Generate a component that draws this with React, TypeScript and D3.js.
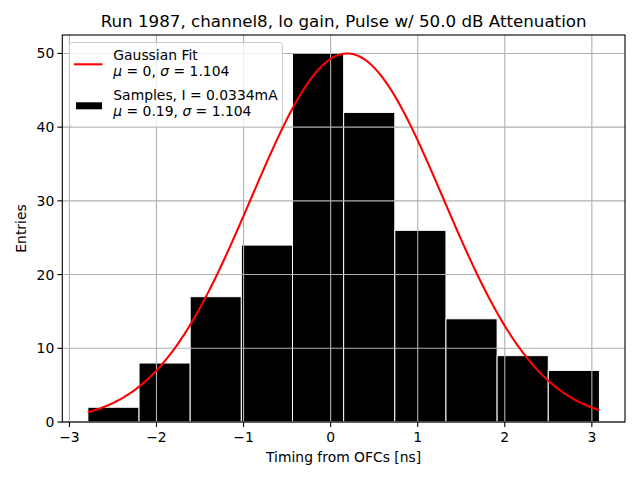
import React from "react";
import * as d3 from "d3";

const binEdges = [-2.788, -2.2005, -1.613, -1.0255, -0.438, 0.1495, 0.737, 1.3245, 1.912, 2.4995, 3.087];
const counts = [2, 8, 17, 24, 50, 42, 26, 14, 9, 7];
const fitMu = 0.19;
const fitSigma = 1.104;
const fitAmp = 50;
const xTicks = [-3, -2, -1, 0, 1, 2, 3];
const yTicks = [0, 10, 20, 30, 40, 50];

const W = 640, H = 480;
const L = 62.3, R = 625, T = 35, B = 422;
const FONT = "DejaVu Sans, sans-serif";

export default function App() {
  const lo = binEdges[0], hi = binEdges[binEdges.length - 1];
  const pad = (hi - lo) * 0.05;
  const x = d3.scaleLinear().domain([lo - pad, hi + pad]).range([L, R]);
  const ymax = d3.max(counts)! * 1.05;
  const y = d3.scaleLinear().domain([0, ymax]).range([B, T]);

  const n = 200;
  const pts: [number, number][] = d3.range(n + 1).map((i) => {
    const xv = lo + ((hi - lo) * i) / n;
    return [xv, fitAmp * Math.exp(-((xv - fitMu) ** 2) / (2 * fitSigma * fitSigma))];
  });
  const line = d3.line<[number, number]>().x((d) => x(d[0])).y((d) => y(d[1]));
  const fmt = (v: number) => (v < 0 ? "\u2212" + Math.abs(v) : String(v));

  return (
    <svg width={W} height={H} style={{ position: "absolute", left: 0, top: 0, background: "white" }} fontFamily={FONT}>
      <rect x={0} y={0} width={W} height={H} fill="white" />
      {counts.map((c, i) => (
        <rect key={i} x={x(binEdges[i])} y={y(c)} width={x(binEdges[i + 1]) - x(binEdges[i])} height={B - y(c)}
          fill="black" stroke="white" strokeWidth={1} />
      ))}
      <g stroke="#b0b0b0" strokeWidth={1.1}>
        {xTicks.map((t) => <line key={"gx" + t} x1={x(t)} x2={x(t)} y1={T} y2={B} />)}
        {yTicks.map((t) => <line key={"gy" + t} x1={L} x2={R} y1={y(t)} y2={y(t)} />)}
      </g>
      <path d={line(pts)!} fill="none" stroke="red" strokeWidth={2.08} />
      <rect x={L} y={T} width={R - L} height={B - T} fill="none" stroke="black" strokeWidth={1.1} />
      <g fontSize={13.9} fill="black">
        {xTicks.map((t) => (
          <g key={"tx" + t}>
            <line x1={x(t)} x2={x(t)} y1={B} y2={B + 4.9} stroke="black" strokeWidth={1.1} />
            <text x={x(t)} y={B + 20} textAnchor="middle">{fmt(t)}</text>
          </g>
        ))}
        {yTicks.map((t) => (
          <g key={"ty" + t}>
            <line x1={L - 4.9} x2={L} y1={y(t)} y2={y(t)} stroke="black" strokeWidth={1.1} />
            <text x={L - 8} y={y(t) + 5} textAnchor="end">{fmt(t)}</text>
          </g>
        ))}
        <text x={(L + R) / 2} y={462} textAnchor="middle">Timing from OFCs [ns]</text>
        <text transform={`translate(26,${(T + B) / 2}) rotate(-90)`} textAnchor="middle">Entries</text>
      </g>
      <text x={(L + R) / 2} y={27.3} textAnchor="middle" fontSize={16.7}>
        Run 1987, channel8, lo gain, Pulse w/ 50.0 dB Attenuation
      </text>
      <g fontSize={13.9}>
        <rect x={69.5} y={42.5} width={213} height={84.5} rx={3} fill="white" fillOpacity={0.8} stroke="#cccccc" strokeWidth={1} />
        <line x1={74} x2={102.5} y1={64.3} y2={64.3} stroke="red" strokeWidth={2.08} />
        <rect x={76} y={102.3} width={26} height={7} fill="black" />
        <text x={113.3} y={59.5}>Gaussian Fit</text>
        <text x={113.3} y={76}><tspan fontStyle="italic">μ</tspan> = 0, <tspan fontStyle="italic">σ</tspan> = 1.104</text>
        <text x={113.3} y={99.5}>Samples, I = 0.0334mA</text>
        <text x={113.3} y={116}><tspan fontStyle="italic">μ</tspan> = 0.19, <tspan fontStyle="italic">σ</tspan> = 1.104</text>
      </g>
    </svg>
  );
}
